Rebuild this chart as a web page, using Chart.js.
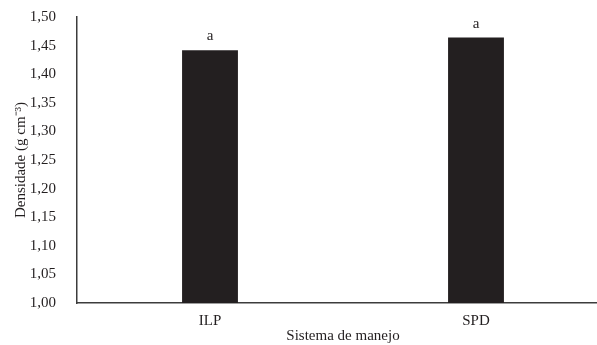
<!DOCTYPE html>
<html>
<head>
<meta charset="utf-8">
<script src="https://cdn.jsdelivr.net/npm/chart.js@4/dist/chart.umd.min.js"></script>
<style>
  html, body { margin: 0; padding: 0; background: #fff; overflow: hidden; }
  #wrap { width: 597px; height: 345px; overflow: hidden; }
  canvas { display: block; }
</style>
</head>
<body>
<div id="wrap"><canvas id="c" width="609" height="345"></canvas></div>
<script>
// Soil bulk density by management system
const categories = ['ILP', 'SPD'];
const densidade = [1.442, 1.464];
const letras = ['a', 'a'];
const yTicks = [1.00, 1.05, 1.10, 1.15, 1.20, 1.25, 1.30, 1.35, 1.40, 1.45, 1.50];

const ink = '#231f20';
const serif = '"Liberation Serif", "Times New Roman", serif';

// Writes the significance letter above each bar
const letterPlugin = {
  id: 'letters',
  afterDatasetsDraw(chart) {
    const ctx = chart.ctx;
    const meta = chart.getDatasetMeta(0);
    ctx.save();
    ctx.fillStyle = ink;
    ctx.font = '15px ' + serif;
    ctx.textAlign = 'center';
    ctx.textBaseline = 'alphabetic';
    meta.data.forEach((bar, i) => {
      ctx.fillText(letras[i], bar.x, bar.y - 10);
    });
    ctx.restore();
  }
};

new Chart(document.getElementById('c'), {
  type: 'bar',
  data: {
    labels: categories,
    datasets: [{
      data: densidade,
      backgroundColor: ink,
      borderWidth: 0,
      barPercentage: 0.21,
      categoryPercentage: 1.0
    }]
  },
  options: {
    responsive: false,
    animation: false,
    layout: { padding: { top: 17, right: 0, left: 0, bottom: 0 } },
    plugins: { legend: { display: false }, tooltip: { enabled: false } },
    scales: {
      x: {
        grid: { display: false },
        border: { display: true, color: '#3c3c3c', width: 1.5 },
        ticks: { color: ink, font: { family: serif, size: 15 }, padding: 1 },
        title: {
          display: true,
          text: 'Sistema de manejo',
          color: ink,
          font: { family: serif, size: 15 },
          padding: { top: 0, bottom: 0 }
        },
        afterFit(scale) { scale.height = 42; scale.paddingLeft = 0; scale.paddingRight = 0; }
      },
      y: {
        min: 1.0,
        max: 1.5,
        afterBuildTicks(scale) { scale.ticks = yTicks.map(v => ({ value: v })); },
        grid: { display: false },
        border: { display: true, color: '#3c3c3c', width: 1.5 },
        ticks: {
          color: ink,
          font: { family: serif, size: 15 },
          padding: 13,
          callback: v => Number(v).toFixed(2).replace('.', ',')
        },
        title: {
          display: true,
          text: 'Densidade (g cm\u207B\u00B3)',
          color: ink,
          font: { family: serif, size: 15 },
          padding: { top: 12, bottom: 0 }
        },
        afterFit(scale) { scale.width = 77; scale.paddingTop = 0; scale.paddingBottom = 0; }
      }
    }
  },
  plugins: [letterPlugin]
});
</script>
</body>
</html>
